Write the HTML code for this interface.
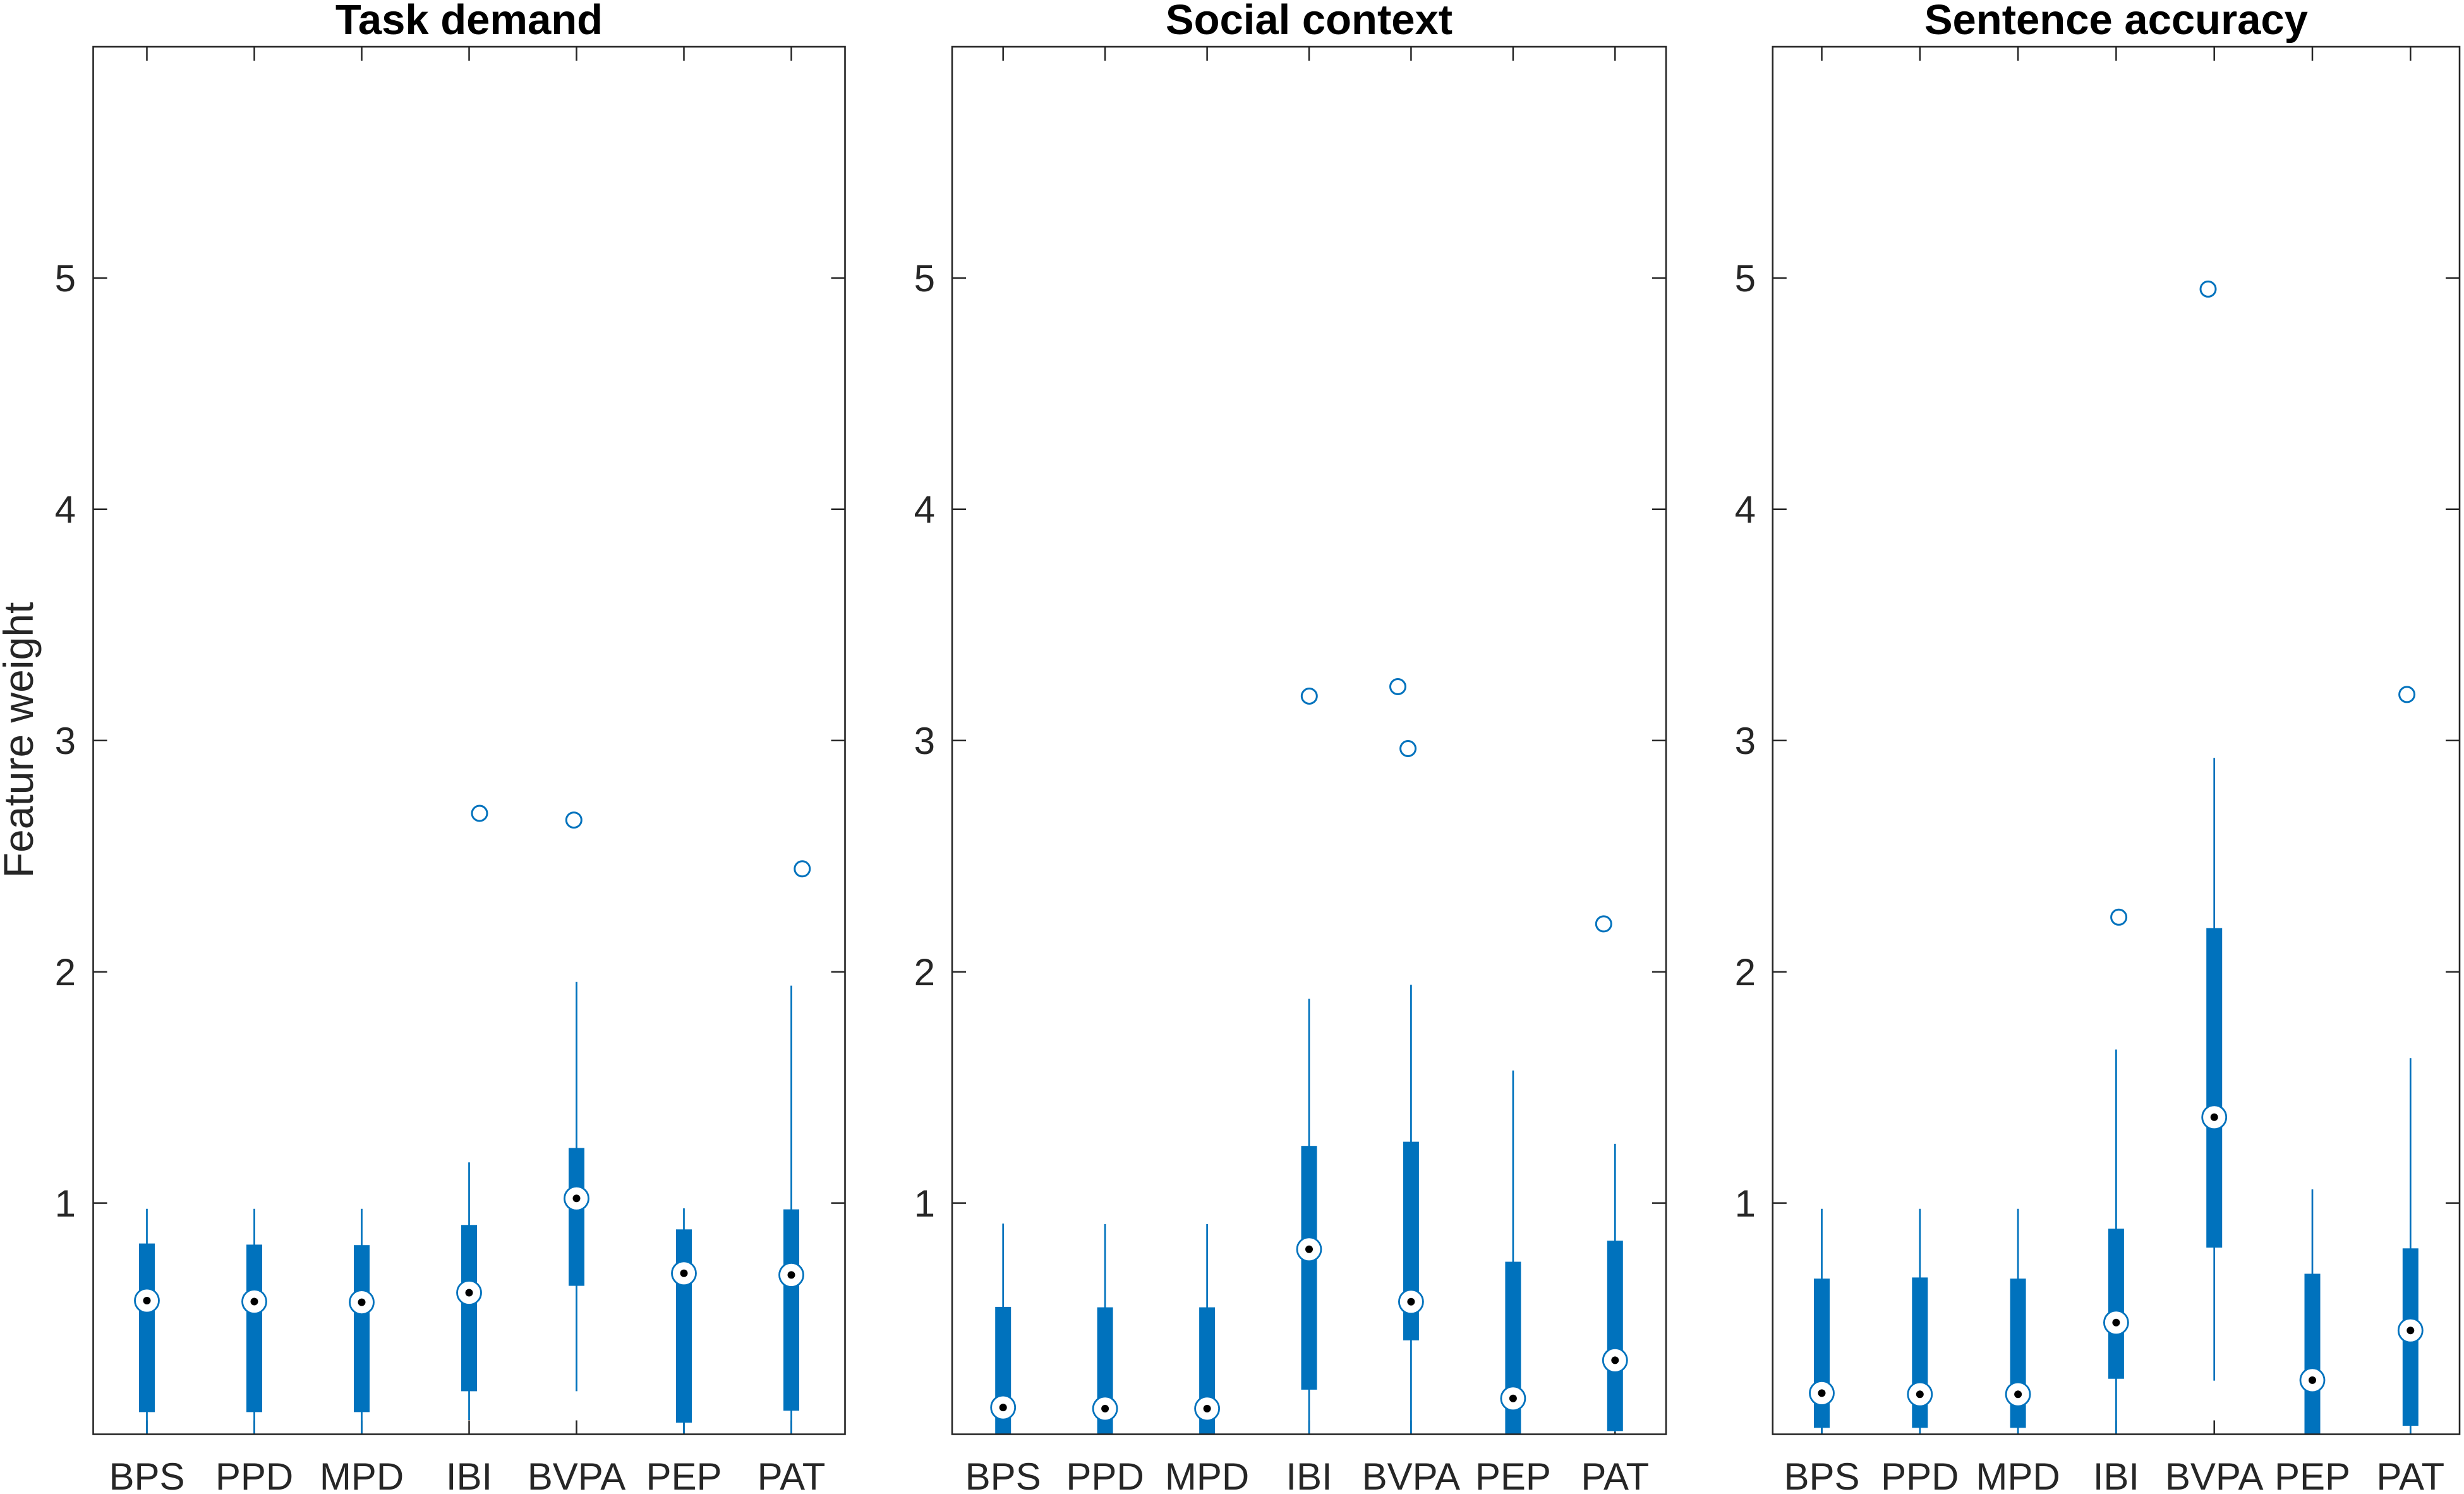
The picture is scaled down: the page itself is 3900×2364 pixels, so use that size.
<!DOCTYPE html>
<html><head><meta charset="utf-8"><style>
html,body{margin:0;padding:0;background:#fff;}
svg{display:block;}
text{font-family:"Liberation Sans",Arial,sans-serif;}
</style></head><body>
<svg width="3900" height="2364" viewBox="0 0 3900 2364" xmlns="http://www.w3.org/2000/svg">
<rect width="3900" height="2364" fill="#fff"/>
<defs>
<g id="med"><circle r="19" fill="#fff" stroke="#0072BD" stroke-width="2.8"/><circle r="6" fill="#000"/></g>
</defs>

<!-- Titles -->
<g font-weight="bold" font-size="67" text-anchor="middle" fill="#000">
<text x="742.5" y="54">Task demand</text>
<text x="2072" y="54">Social context</text>
<text x="3349.4" y="54">Sentence accuracy</text>
</g>

<!-- Y label -->
<text transform="translate(52,1171) rotate(-90)" font-size="66" text-anchor="middle" fill="#262626">Feature weight</text>

<!-- ===== Ticks (drawn under data) ===== -->
<g stroke="#262626" stroke-width="2.5" fill="none">
<!-- Panel 1 -->
<path d="M147.5,1903.6h22M147.5,1537.7h22M147.5,1171.7h22M147.5,805.8h22M147.5,439.9h22
M1337.5,1903.6h-22M1337.5,1537.7h-22M1337.5,1171.7h-22M1337.5,805.8h-22M1337.5,439.9h-22
M232.5,74v22M402.5,74v22M572.5,74v22M742.5,74v22M912.5,74v22M1082.5,74v22M1252.5,74v22
M232.5,2269.5v-22M402.5,2269.5v-22M572.5,2269.5v-22M742.5,2269.5v-22M912.5,2269.5v-22M1082.5,2269.5v-22M1252.5,2269.5v-22"/>
<!-- Panel 2 -->
<path d="M1507,1903.6h22M1507,1537.7h22M1507,1171.7h22M1507,805.8h22M1507,439.9h22
M2637,1903.6h-22M2637,1537.7h-22M2637,1171.7h-22M2637,805.8h-22M2637,439.9h-22
M1587.7,74v22M1749.1,74v22M1910.6,74v22M2072,74v22M2233.4,74v22M2394.9,74v22M2556.3,74v22
M1587.7,2269.5v-22M1749.1,2269.5v-22M1910.6,2269.5v-22M2072,2269.5v-22M2233.4,2269.5v-22M2394.9,2269.5v-22M2556.3,2269.5v-22"/>
<!-- Panel 3 -->
<path d="M2805.8,1903.6h22M2805.8,1537.7h22M2805.8,1171.7h22M2805.8,805.8h22M2805.8,439.9h22
M3893,1903.6h-22M3893,1537.7h-22M3893,1171.7h-22M3893,805.8h-22M3893,439.9h-22
M2883.5,74v22M3038.8,74v22M3194.1,74v22M3349.4,74v22M3504.7,74v22M3660,74v22M3815.3,74v22
M2883.5,2269.5v-22M3038.8,2269.5v-22M3194.1,2269.5v-22M3349.4,2269.5v-22M3504.7,2269.5v-22M3660,2269.5v-22M3815.3,2269.5v-22"/>
</g>

<!-- ===== Panel 1 data ===== -->
<g stroke="#0072BD" stroke-width="2.7">
<line x1="232.5" y1="1912.7" x2="232.5" y2="2269.5"/>
<line x1="402.5" y1="1912.7" x2="402.5" y2="2269.5"/>
<line x1="572.5" y1="1912.7" x2="572.5" y2="2269.5"/>
<line x1="742.5" y1="1839.2" x2="742.5" y2="2247"/>
<line x1="912.5" y1="1553.8" x2="912.5" y2="2201.4"/>
<line x1="1082.5" y1="1912.0" x2="1082.5" y2="2269.5"/>
<line x1="1252.5" y1="1559.6" x2="1252.5" y2="2269.5"/>
</g>
<g fill="#0072BD">
<rect x="220" y="1967.6" width="25" height="266.8"/>
<rect x="390" y="1969.4" width="25" height="265.0"/>
<rect x="560" y="1970.2" width="25" height="264.2"/>
<rect x="730" y="1938.3" width="25" height="263.1"/>
<rect x="900" y="1816.5" width="25" height="218.1"/>
<rect x="1070" y="1945.3" width="25" height="305.9"/>
<rect x="1240" y="1913.6" width="25" height="318.6"/>
</g>
<use href="#med" x="232.5" y="2058.0"/>
<use href="#med" x="402.5" y="2059.5"/>
<use href="#med" x="572.5" y="2060.6"/>
<use href="#med" x="742.5" y="2045.5"/>
<use href="#med" x="912.5" y="1896.3"/>
<use href="#med" x="1082.5" y="2014.8"/>
<use href="#med" x="1252.5" y="2017.4"/>
<g fill="none" stroke="#0072BD" stroke-width="3">
<circle cx="759" cy="1287.0" r="12"/>
<circle cx="908.3" cy="1297.6" r="12"/>
<circle cx="1269.8" cy="1374.8" r="12"/>
</g>

<!-- ===== Panel 2 data ===== -->
<g stroke="#0072BD" stroke-width="2.7">
<line x1="1587.7" y1="1936.1" x2="1587.7" y2="2269.5"/>
<line x1="1749.1" y1="1936.9" x2="1749.1" y2="2269.5"/>
<line x1="1910.6" y1="1936.9" x2="1910.6" y2="2269.5"/>
<line x1="2072" y1="1580.5" x2="2072" y2="2269.5"/>
<line x1="2233.4" y1="1558.2" x2="2233.4" y2="2269.5"/>
<line x1="2394.9" y1="1693.9" x2="2394.9" y2="2269.5"/>
<line x1="2556.3" y1="1809.9" x2="2556.3" y2="2265.8"/>
</g>
<g fill="#0072BD">
<rect x="1575.2" y="2067.9" width="25" height="201.6"/>
<rect x="1736.6" y="2068.6" width="25" height="200.9"/>
<rect x="1898.1" y="2068.6" width="25" height="200.9"/>
<rect x="2059.5" y="1813.2" width="25" height="385.7"/>
<rect x="2220.9" y="1806.6" width="25" height="314.3"/>
<rect x="2382.4" y="1996.5" width="25" height="273.0"/>
<rect x="2543.8" y="1963.2" width="25" height="301.2"/>
</g>
<use href="#med" x="1587.7" y="2227.1"/>
<use href="#med" x="1749.1" y="2228.9"/>
<use href="#med" x="1910.6" y="2228.9"/>
<use href="#med" x="2072" y="1976.8"/>
<use href="#med" x="2233.4" y="2059.8"/>
<use href="#med" x="2394.9" y="2212.8"/>
<use href="#med" x="2556.3" y="2152.4"/>
<g fill="none" stroke="#0072BD" stroke-width="3">
<circle cx="2072.3" cy="1101.5" r="12"/>
<circle cx="2212.5" cy="1086.5" r="12"/>
<circle cx="2228.6" cy="1184.5" r="12"/>
<circle cx="2538.3" cy="1461.9" r="12"/>
</g>

<!-- ===== Panel 3 data ===== -->
<g stroke="#0072BD" stroke-width="2.7">
<line x1="2883.5" y1="1912.7" x2="2883.5" y2="2269.5"/>
<line x1="3038.8" y1="1912.7" x2="3038.8" y2="2269.5"/>
<line x1="3194.1" y1="1912.7" x2="3194.1" y2="2269.5"/>
<line x1="3349.4" y1="1660.6" x2="3349.4" y2="2269.5"/>
<line x1="3504.7" y1="1199.2" x2="3504.7" y2="2184.6"/>
<line x1="3660" y1="1882.0" x2="3660" y2="2269.5"/>
<line x1="3815.3" y1="1674.2" x2="3815.3" y2="2269.5"/>
</g>
<g fill="#0072BD">
<rect x="2871" y="2023.2" width="25" height="236.1"/>
<rect x="3026.3" y="2021.4" width="25" height="237.9"/>
<rect x="3181.6" y="2023.2" width="25" height="236.1"/>
<rect x="3336.9" y="1944.2" width="25" height="237.5"/>
<rect x="3492.2" y="1468.5" width="25" height="505.7"/>
<rect x="3647.5" y="2015.5" width="25" height="254.0"/>
<rect x="3802.8" y="1975.3" width="25" height="280.7"/>
</g>
<use href="#med" x="2883.5" y="2204.4"/>
<use href="#med" x="3038.8" y="2206.2"/>
<use href="#med" x="3194.1" y="2206.2"/>
<use href="#med" x="3349.4" y="2092.8"/>
<use href="#med" x="3504.7" y="1767.8"/>
<use href="#med" x="3660" y="2183.9"/>
<use href="#med" x="3815.3" y="2105.2"/>
<g fill="none" stroke="#0072BD" stroke-width="3">
<circle cx="3353.6" cy="1451.3" r="12"/>
<circle cx="3495" cy="457.4" r="12"/>
<circle cx="3809.6" cy="1098.9" r="12"/>
</g>

<!-- ===== Axes frames ===== -->
<g stroke="#262626" stroke-width="2.6" fill="none">
<rect x="147.5" y="74" width="1190" height="2195.5"/>
<rect x="1507" y="74" width="1130" height="2195.5"/>
<rect x="2805.8" y="74" width="1087.2" height="2195.5"/>
</g>

<!-- ===== Y tick labels ===== -->
<g font-size="60" text-anchor="end" fill="#262626">
<text x="120" y="1925">1</text><text x="120" y="1559">2</text><text x="120" y="1193">3</text><text x="120" y="827">4</text><text x="120" y="461">5</text>
<text x="1480" y="1925">1</text><text x="1480" y="1559">2</text><text x="1480" y="1193">3</text><text x="1480" y="827">4</text><text x="1480" y="461">5</text>
<text x="2779" y="1925">1</text><text x="2779" y="1559">2</text><text x="2779" y="1193">3</text><text x="2779" y="827">4</text><text x="2779" y="461">5</text>
</g>

<!-- ===== X tick labels ===== -->
<g font-size="60" text-anchor="middle" fill="#262626">
<text x="232.5" y="2357">BPS</text><text x="402.5" y="2357">PPD</text><text x="572.5" y="2357">MPD</text><text x="742.5" y="2357">IBI</text><text x="912.5" y="2357">BVPA</text><text x="1082.5" y="2357">PEP</text><text x="1252.5" y="2357">PAT</text>
<text x="1587.7" y="2357">BPS</text><text x="1749.1" y="2357">PPD</text><text x="1910.6" y="2357">MPD</text><text x="2072" y="2357">IBI</text><text x="2233.4" y="2357">BVPA</text><text x="2394.9" y="2357">PEP</text><text x="2556.3" y="2357">PAT</text>
<text x="2883.5" y="2357">BPS</text><text x="3038.8" y="2357">PPD</text><text x="3194.1" y="2357">MPD</text><text x="3349.4" y="2357">IBI</text><text x="3504.7" y="2357">BVPA</text><text x="3660" y="2357">PEP</text><text x="3815.3" y="2357">PAT</text>
</g>
</svg>
</body></html>
